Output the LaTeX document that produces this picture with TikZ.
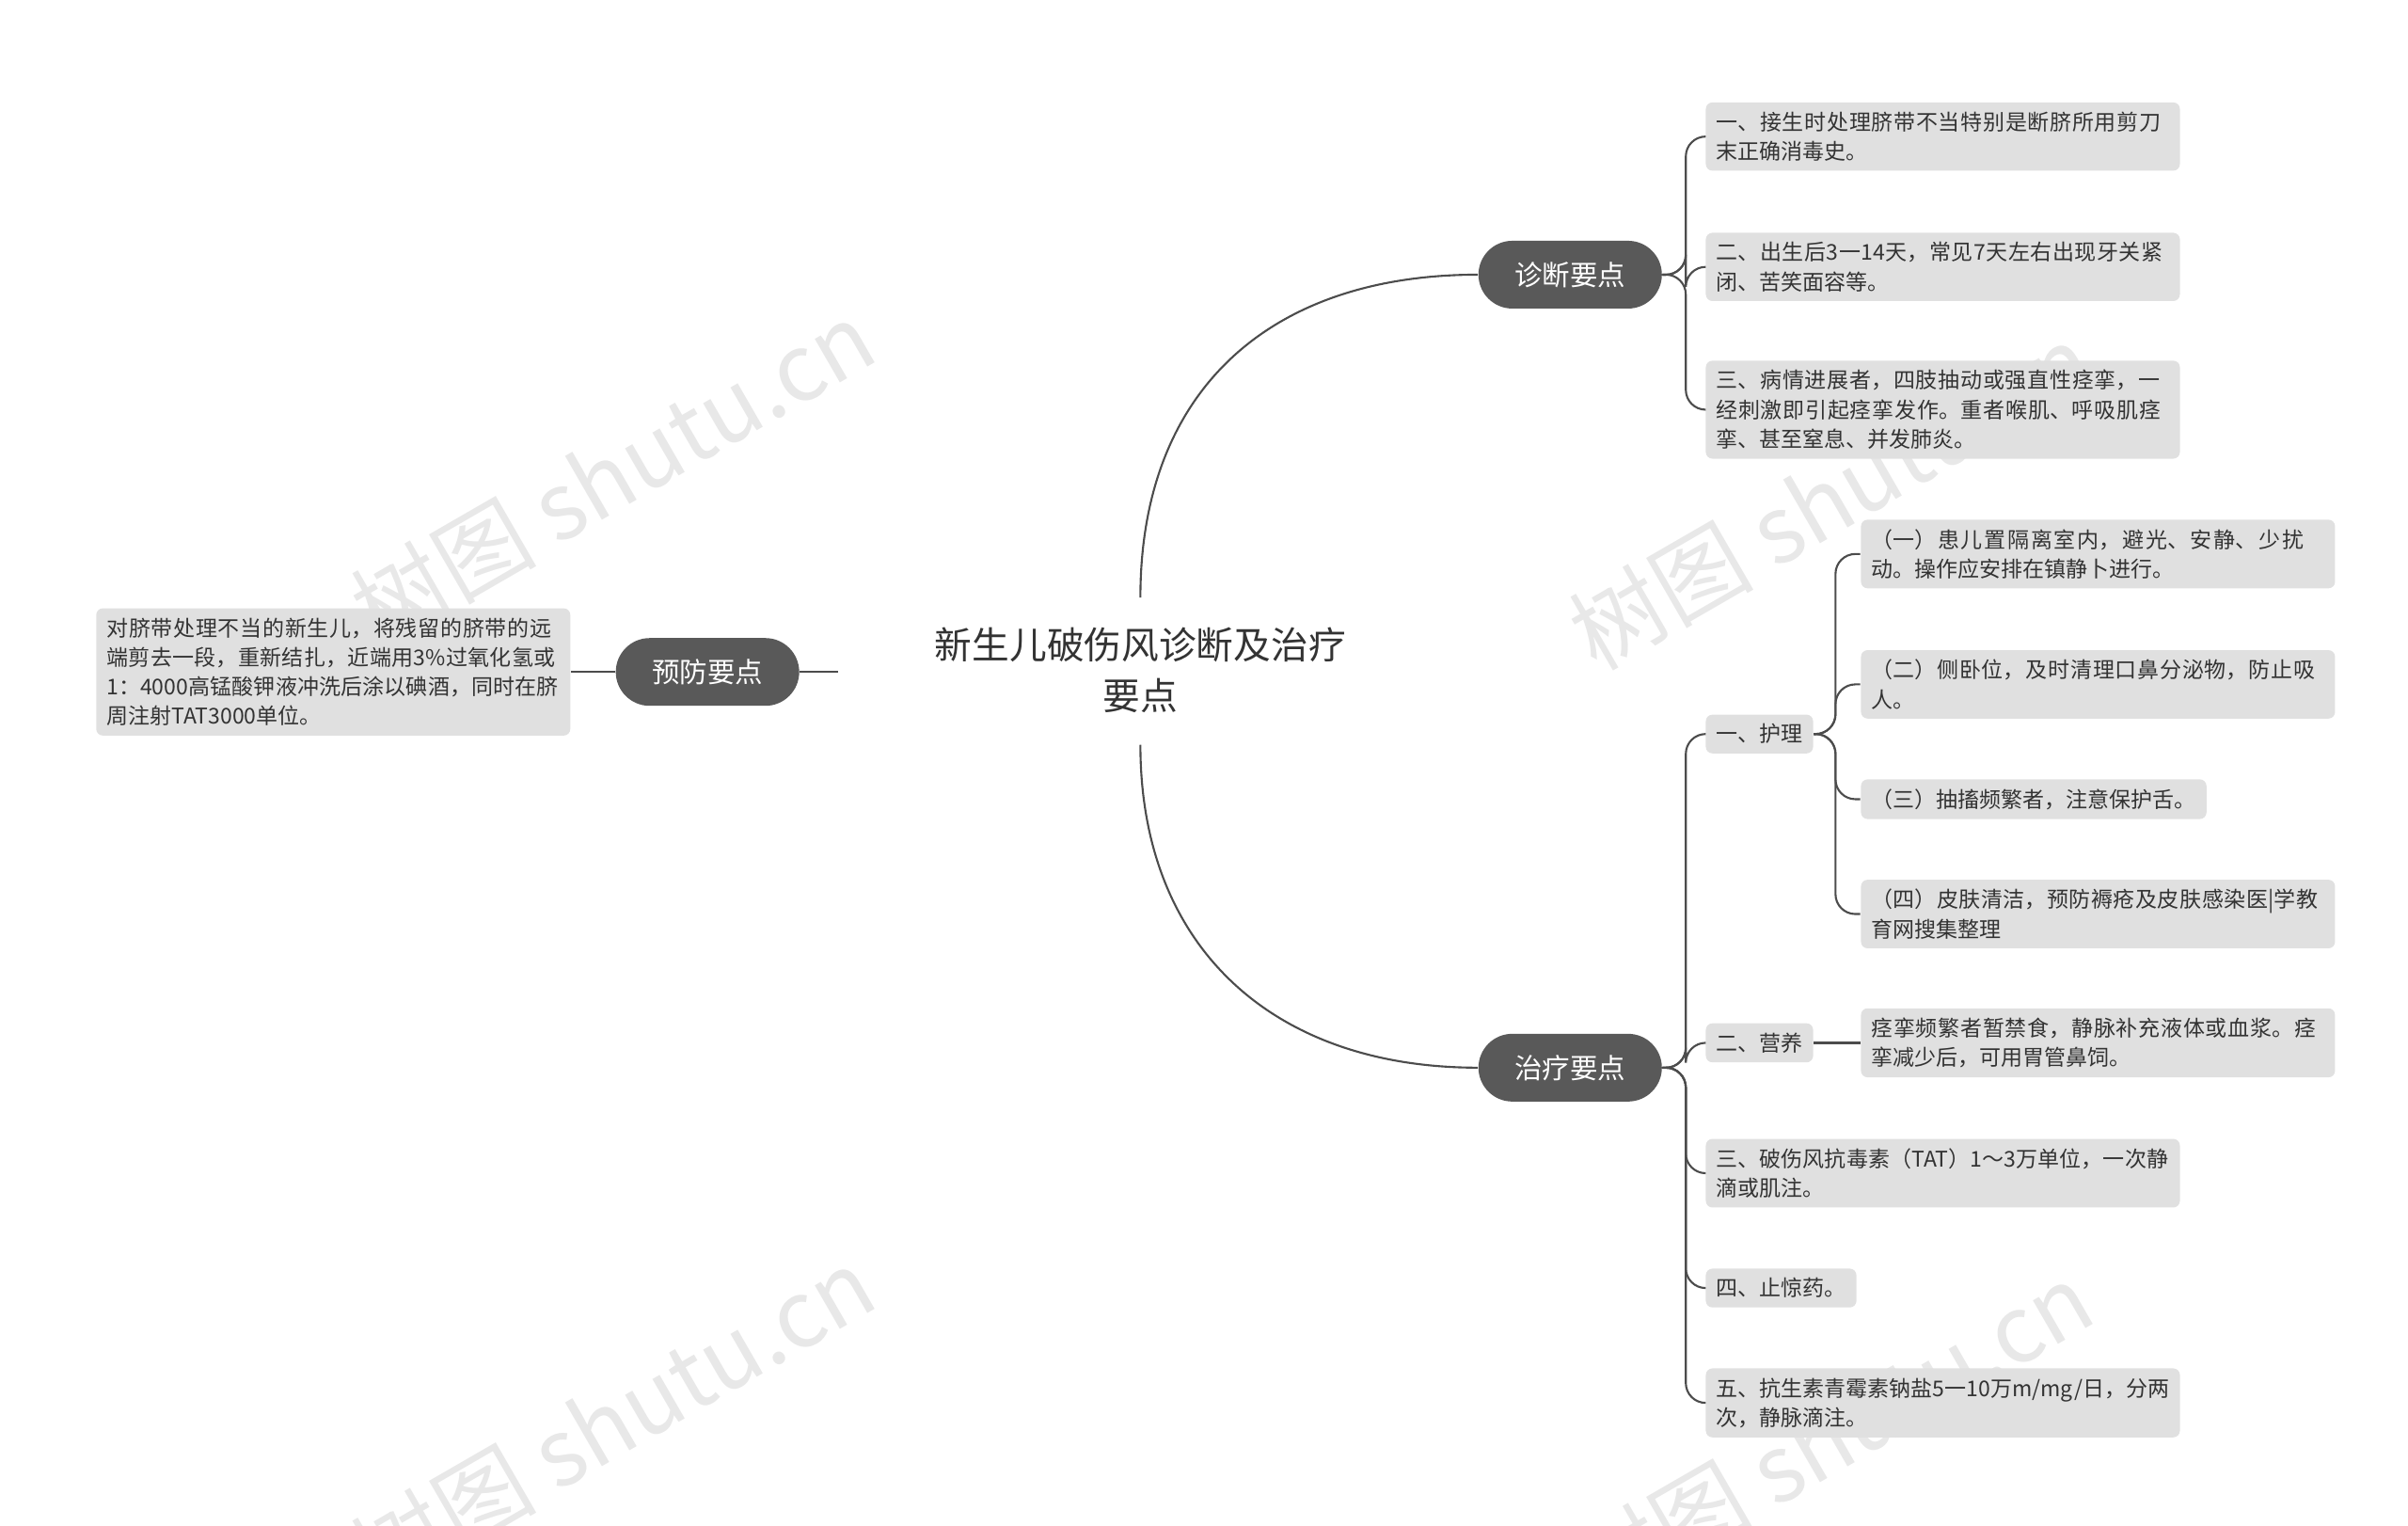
\documentclass[tikz,border=0pt]{standalone}
\usepackage{fontspec}
\setmainfont{Noto Sans CJK SC}
\XeTeXlinebreaklocale "zh"
\XeTeXlinebreakskip=0pt plus 1pt
\begin{document}
\begin{tikzpicture}[x=0.016495cm,y=-0.016495cm,
  main/.style={fill=black!65,text=white,rounded corners=0.36cm,minimum width=1.95cm,minimum height=0.72cm,font=\fontsize{8.4}{10}\selectfont},
  leaf/.style={fill=black!12,text=black!80,rounded corners=2pt,anchor=west,align=left,inner xsep=0.11cm,inner ysep=0.1cm,font=\fontsize{6.55}{8.9}\selectfont},
  wide/.style={leaf,text width=4.82cm},
  conn/.style={draw=black!70,line width=0.6pt,rounded corners=6pt},
  wm/.style={text=black!9,rotate=30,font=\fontsize{28}{28}\selectfont}]
\useasboundingbox (0,0) rectangle (1552,983);
\node[wm] at (395,305) {树图 shutu.cn};
\node[wm] at (395,915) {树图 shutu.cn};
\node[wm] at (1180,320) {树图 shutu.cn};
\node[wm] at (1180,925) {树图 shutu.cn};

\node[align=center,text=black!80,font=\fontsize{11.3}{15.5}\selectfont,inner sep=2pt] (root) at (735,432) {新生儿破伤风诊断及治疗\\要点};
\coordinate (rt) at (735,385);
\coordinate (rb) at (735,480);
\coordinate (rl) at (540,433);
\node[main] (d) at (1012,177) {诊断要点};
\node[main] (t) at (1012,688) {治疗要点};
\node[main] (p) at (456,433) {预防要点};
\draw[black!70,line width=0.6pt] (rt) .. controls (735,250) and (820,177) .. (d.west);
\draw[black!70,line width=0.6pt] (rb) .. controls (735,610) and (820,688) .. (t.west);
\draw[black!70,line width=0.6pt] (rl) -- (p.east);
\node[wide,anchor=east] (p1) at (368,433) {对脐带处理不当的新生儿，将残留的脐带的远端剪去一段，重新结扎，近端用3\%过氧化氢或1：4000高锰酸钾液冲洗后涂以碘酒，同时在脐周注射TAT3000单位。};
\draw[black!70,line width=0.6pt] (p.west) -- (p1.east);

\node[wide] (d1) at (1099,88) {一、接生时处理脐带不当特别是断脐所用剪刀末正确消毒史。};
\node[wide] (d2) at (1099,172) {二、出生后3一14天，常见7天左右出现牙关紧闭、苦笑面容等。};
\node[wide] (d3) at (1099,264) {三、病情进展者，四肢抽动或强直性痉挛，一经刺激即引起痉挛发作。重者喉肌、呼吸肌痉挛、甚至窒息、并发肺炎。};
\foreach \c in {d1,d2,d3} \draw[conn] (d.east) -- ++(15,0) |- (\c.west);

\node[leaf] (t1) at (1099,473) {一、护理};
\node[leaf] (t2) at (1099,672) {二、营养};
\node[wide] (t3) at (1099,756) {三、破伤风抗毒素（TAT）1～3万单位，一次静滴或肌注。};
\node[leaf] (t4) at (1099,830) {四、止惊药。};
\node[wide] (t5) at (1099,904) {五、抗生素青霉素钠盐5一10万m/mg/日，分两次，静脉滴注。};
\foreach \c in {t1,t2,t3,t4,t5} \draw[conn] (t.east) -- ++(15,0) |- (\c.west);

\node[wide] (h1) at (1199,357) {（一）患儿置隔离室内，避光、安静、少扰动。操作应安排在镇静卜进行。};
\node[wide] (h2) at (1199,441) {（二）侧卧位，及时清理口鼻分泌物，防止吸人。};
\node[leaf] (h3) at (1199,515) {（三）抽搐频繁者，注意保护舌。};
\node[wide] (h4) at (1199,589) {（四）皮肤清洁，预防褥疮及皮肤感染医|学教育网搜集整理};
\foreach \c in {h1,h2,h3,h4} \draw[conn] (t1.east) -- ++(14,0) |- (\c.west);

\node[wide] (n1) at (1199,672) {痉挛频繁者暂禁食，静脉补充液体或血浆。痉挛减少后，可用胃管鼻饲。};
\draw[conn] (t2.east) -- (n1.west);
\end{tikzpicture}
\end{document}
